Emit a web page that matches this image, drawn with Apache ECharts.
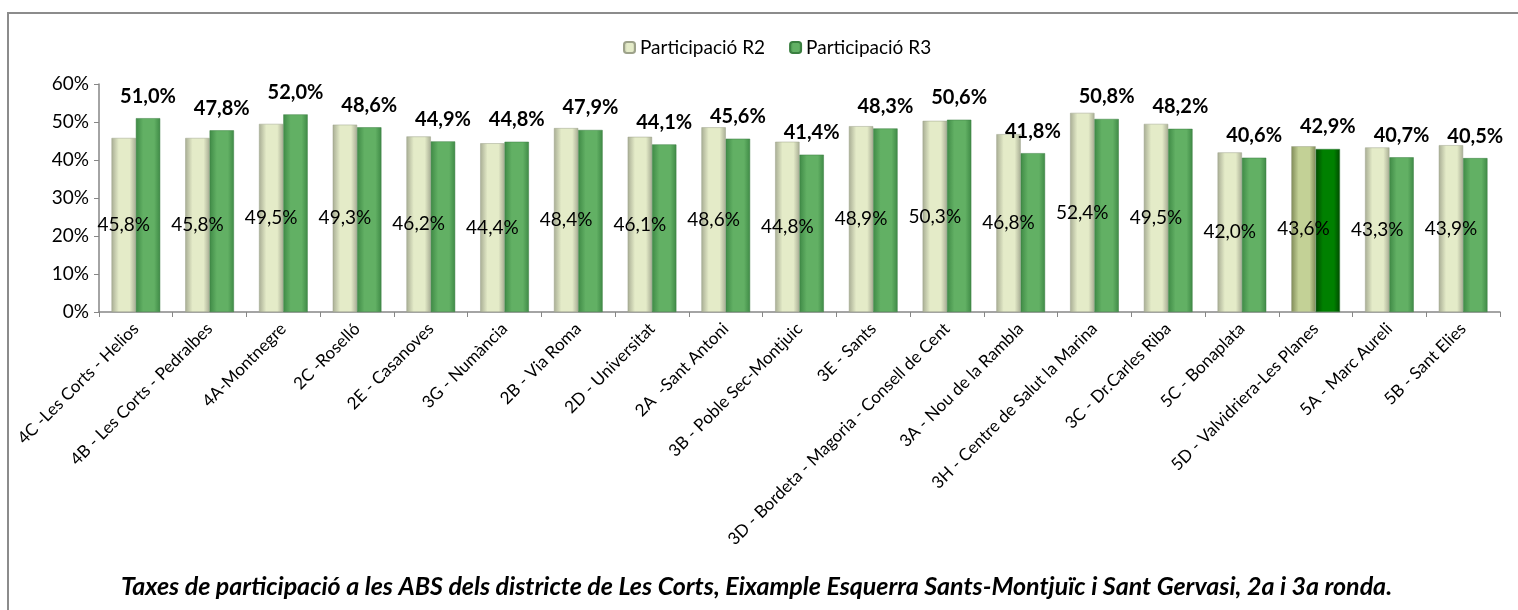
<!DOCTYPE html>
<html>
<head>
<meta charset="utf-8">
<script src="https://cdn.jsdelivr.net/npm/echarts@6/dist/echarts.min.js"></script>
<style>
  html, body { margin: 0; padding: 0; background: #fff; }
  #chart { width: 1518px; height: 610px; }
</style>
</head>
<body>
<div id="chart"></div>
<script>
const categories = [
  "4C -Les Corts - Helios",
  "4B - Les Corts - Pedralbes",
  "4A-Montnegre",
  "2C -Roselló",
  "2E - Casanoves",
  "3G - Numància",
  "2B - Via Roma",
  "2D - Universitat",
  "2A  -Sant Antoni",
  "3B - Poble Sec-Montjuic",
  "3E - Sants",
  "3D - Bordeta - Magoria - Consell de Cent",
  "3A - Nou de la Rambla",
  "3H - Centre de Salut la Marina",
  "3C - Dr.Carles Riba",
  "5C - Bonaplata",
  "5D - Valvidriera-Les Planes",
  "5A - Marc Aureli",
  "5B - Sant Elies",
];
const r2Values = [45.8, 45.8, 49.5, 49.3, 46.2, 44.4, 48.4, 46.1, 48.6, 44.8, 48.9, 50.3, 46.8, 52.4, 49.5, 42.0, 43.6, 43.3, 43.9];
const r3Values = [51.0, 47.8, 52.0, 48.6, 44.9, 44.8, 47.9, 44.1, 45.6, 41.4, 48.3, 50.6, 41.8, 50.8, 48.2, 40.6, 42.9, 40.7, 40.5];
const yTicks = [0, 10, 20, 30, 40, 50, 60];
const highlighted = "5D - Valvidriera-Les Planes";

const font = "Lato, 'Open Sans', sans-serif";

function bevel(edge, mid) {
  return new echarts.graphic.LinearGradient(0, 0, 1, 0, [
    { offset: 0, color: edge },
    { offset: 0.3, color: mid },
    { offset: 0.75, color: mid },
    { offset: 1, color: edge },
  ]);
}

const r2Style = bevel("#a8ad94", "#e4ebc8");
const r3Style = bevel("#3f8a46", "#62b064");
const r2Hi = bevel("#7f8a58", "#c3d196");
const r3Hi = bevel("#004a00", "#008000");

const fmt = (v) => v.toFixed(1).replace(".", ",") + "%";

const chart = echarts.init(document.getElementById("chart"));
chart.setOption({
  animation: false,
  textStyle: { fontFamily: font },
  graphic: [
    {
      type: "rect",
      shape: { x: 8, y: 13, width: 1530, height: 620 },
      style: { fill: "none", stroke: "#8c8c8c", lineWidth: 2 },
      silent: true,
    },
  ],
  title: {
    text: "Taxes de participació a les ABS dels districte de Les Corts, Eixample Esquerra Sants-Montjuïc i Sant Gervasi, 2a i 3a ronda.",
    left: 116,
    top: 569,
    textStyle: {
      fontFamily: font,
      fontSize: 25,
      fontWeight: "bold",
      fontStyle: "italic",
      color: "#000",
    },
  },
  legend: {
    left: 618,
    top: 33,
    itemWidth: 11,
    itemHeight: 11,
    itemGap: 24,
    textStyle: { fontFamily: font, fontSize: 19, color: "#000" },
    data: ["Participació R2", "Participació R3"],
  },
  grid: { left: 99, right: 18, top: 84, bottom: 298 },
  xAxis: {
    type: "category",
    data: categories,
    axisLine: { lineStyle: { color: "#868686", width: 1.5 } },
    axisTick: { show: true, length: 5, lineStyle: { color: "#868686" } },
    axisLabel: {
      interval: 0,
      rotate: 45,
      fontFamily: font,
      fontSize: 17,
      color: "#000",
      margin: 14,
    },
  },
  yAxis: {
    type: "value",
    min: yTicks[0],
    max: yTicks[yTicks.length - 1],
    interval: 10,
    splitLine: { show: false },
    axisLine: { show: true, lineStyle: { color: "#868686", width: 1.5 } },
    axisTick: { show: true, length: 5, lineStyle: { color: "#868686" } },
    axisLabel: {
      formatter: "{value}%",
      fontFamily: font,
      fontSize: 19,
      color: "#000",
      margin: 10,
    },
  },
  series: [
    {
      name: "Participació R2",
      type: "bar",
      barGap: "0%",
      barCategoryGap: "34%",
      itemStyle: { color: r2Style, borderColor: "#9da28a", borderWidth: 0.5 },
      data: r2Values.map((v, i) =>
        categories[i] === highlighted ? { value: v, itemStyle: { color: r2Hi } } : v
      ),
      label: {
        show: true,
        position: "inside",
        formatter: (p) => fmt(p.value),
        fontFamily: font,
        fontSize: 19,
        color: "#000",
      },
    },
    {
      name: "Participació R3",
      type: "bar",
      itemStyle: { color: r3Style, borderColor: "#3a7f40", borderWidth: 0.5 },
      data: r3Values.map((v, i) =>
        categories[i] === highlighted ? { value: v, itemStyle: { color: r3Hi } } : v
      ),
      label: {
        show: true,
        position: "top",
        distance: 12,
        formatter: (p) => fmt(p.value),
        fontFamily: font,
        fontSize: 20,
        fontWeight: "bold",
        color: "#000",
      },
    },
  ],
});
</script>
</body>
</html>
